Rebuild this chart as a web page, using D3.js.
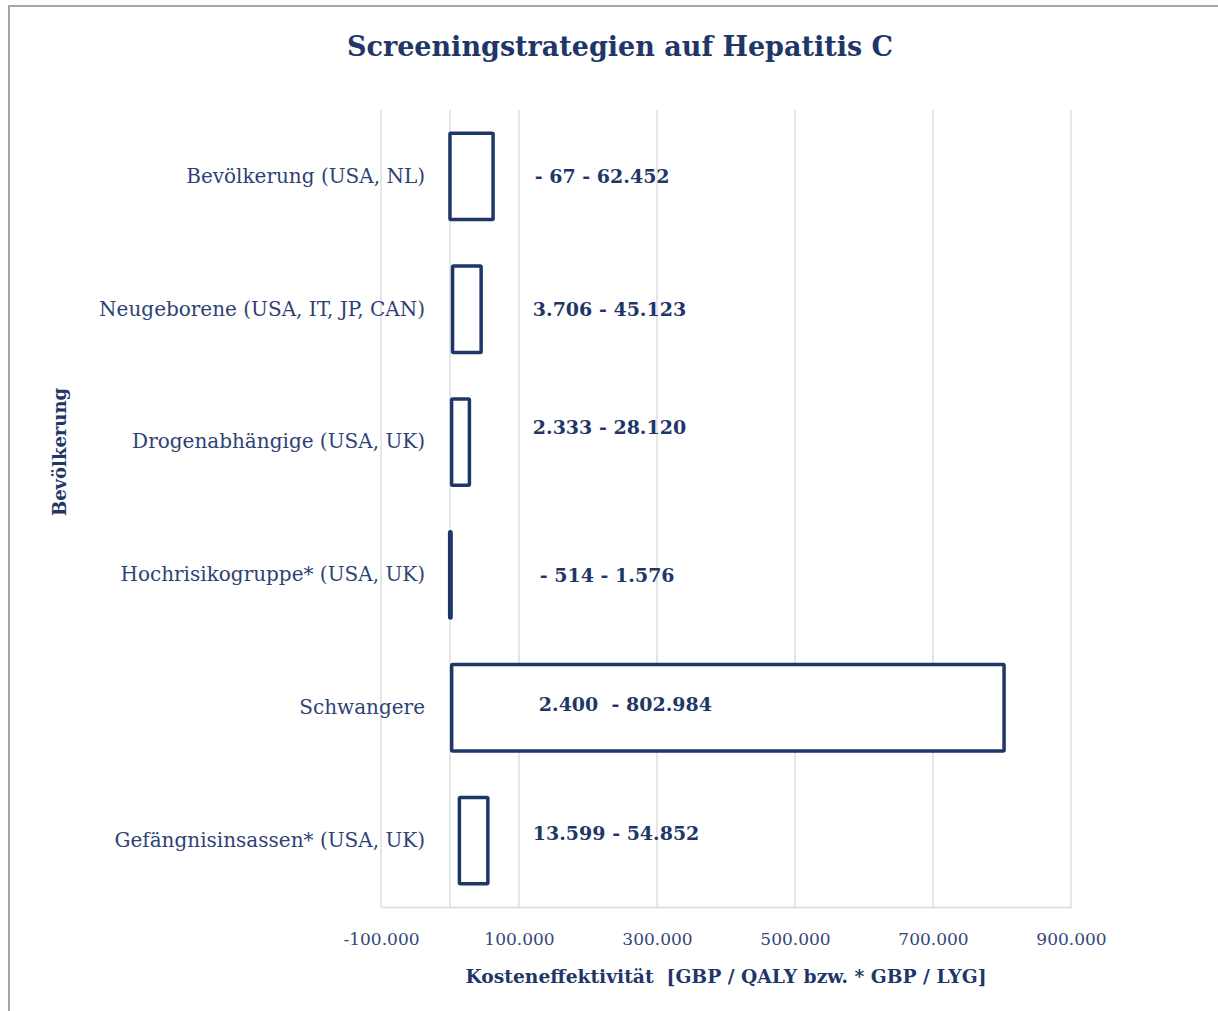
<!DOCTYPE html>
<html>
<head>
<meta charset="utf-8">
<script src="https://cdn.jsdelivr.net/npm/d3@7"></script>
<style>
  body { margin: 0; background: #fff; }
  text { font-family: "DejaVu Serif", serif; }
</style>
</head>
<body>
<div id="chart"></div>
<script>
// categories, top to bottom
var groups = [
    "Bevölkerung (USA, NL)",
    "Neugeborene (USA, IT, JP, CAN)",
    "Drogenabhängige (USA, UK)",
    "Hochrisikogruppe* (USA, UK)",
    "Schwangere",
    "Gefängnisinsassen* (USA, UK)"
];
// range of cost effectiveness per group
var lowValues = [-67, 3706, 2333, -514, 2400, 13599];
var highValues = [62452, 45123, 28120, 1576, 802984, 54852];
var rangeLabels = ["- 67 - 62.452", "3.706 - 45.123", "2.333 - 28.120", "- 514 - 1.576", "2.400  - 802.984", "13.599 - 54.852"];
var tickValues = [-100000, 100000, 300000, 500000, 700000, 900000];

// small manual nudges of the range labels [dx, dy]
var labelNudge = [[2, 0], [0, 0], [0, -15], [7, 0], [6, -3], [0, -7]];

var svgWidth = 1218;
var svgHeight = 1011;
var margin = {top: 110, right: 147, bottom: 104, left: 381};
var chartWidth = svgWidth - margin.left - margin.right;
var chartHeight = svgHeight - margin.top - margin.bottom;
var navy = "#1f3768";

var data = groups.map((g, i) => ({group: g, low: lowValues[i], high: highValues[i], label: rangeLabels[i], nudge: labelNudge[i]}));

var svg = d3.select("#chart").append("svg")
    .attr("width", svgWidth)
    .attr("height", svgHeight);

// frame
svg.append("rect")
    .attr("x", 9).attr("y", 6)
    .attr("width", svgWidth + 20).attr("height", svgHeight + 20)
    .attr("fill", "#fff")
    .attr("stroke", "#a6a6a6")
    .attr("stroke-width", 2);

var chartGroup = svg.append("g")
    .attr("transform", `translate(${margin.left},${margin.top})`);

var xScale = d3.scaleLinear()
    .domain([-100000, 900000])
    .range([0, chartWidth]);

var yScale = d3.scaleBand()
    .domain(groups)
    .range([0, chartHeight])
    .paddingInner(0.35)
    .paddingOuter(0.175);

// gridlines
chartGroup.selectAll(".grid")
    .data(tickValues)
    .enter()
    .append("line")
    .attr("x1", d => xScale(d)).attr("x2", d => xScale(d))
    .attr("y1", 0).attr("y2", chartHeight)
    .attr("stroke", "#d9d9d9")
    .attr("stroke-width", 1.3);

// category axis line at zero
chartGroup.append("line")
    .attr("x1", xScale(0)).attr("x2", xScale(0))
    .attr("y1", 0).attr("y2", chartHeight)
    .attr("stroke", "#d9d9d9")
    .attr("stroke-width", 1.3);

// x axis
var bottomAxis = d3.axisBottom(xScale)
    .tickValues(tickValues)
    .tickSize(0)
    .tickPadding(26)
    .tickFormat(d => d3.format(",")(d).replace(/,/g, ".").replace("−", "-"));

var xAxis = chartGroup.append("g")
    .attr("transform", `translate(0,${chartHeight})`)
    .call(bottomAxis);
xAxis.select(".domain").attr("stroke", "#d9d9d9").attr("stroke-width", 1.5);
xAxis.selectAll("text")
    .attr("font-size", "17px")
    .attr("font-family", "DejaVu Serif")
    .attr("fill", "#34467a");

// y axis (labels only)
var leftAxis = d3.axisLeft(yScale).tickSize(0).tickPadding(25);
var yAxis = chartGroup.append("g")
    .attr("transform", `translate(${xScale(0)},0)`)
    .call(leftAxis);
yAxis.select(".domain").remove();
yAxis.selectAll("text")
    .attr("font-size", "20px")
    .attr("font-family", "DejaVu Serif")
    .attr("fill", "#2e4274");

// range bars
chartGroup.selectAll(".bar")
    .data(data)
    .enter()
    .append("rect")
    .attr("class", "bar")
    .attr("x", d => xScale(d.low))
    .attr("y", d => yScale(d.group))
    .attr("width", d => Math.max(1, xScale(d.high) - xScale(d.low)))
    .attr("height", yScale.bandwidth())
    .attr("fill", "#fff")
    .attr("stroke", navy)
    .attr("stroke-width", 3.5)
    .attr("rx", 1);

// range labels
chartGroup.selectAll(".rangeText")
    .data(data)
    .enter()
    .append("text")
    .attr("class", "rangeText")
    .attr("x", d => xScale(120000) + d.nudge[0])
    .attr("y", d => yScale(d.group) + yScale.bandwidth() / 2 + d.nudge[1])
    .attr("dy", "0.35em")
    .attr("font-size", "19px")
    .attr("font-weight", "bold")
    .attr("fill", navy)
    .style("white-space", "pre")
    .text(d => d.label);

// title
svg.append("text")
    .attr("x", 620)
    .attr("y", 56)
    .attr("text-anchor", "middle")
    .attr("font-size", "27px")
    .attr("font-weight", "bold")
    .attr("fill", navy)
    .text("Screeningstrategien auf Hepatitis C");

// x axis title
svg.append("text")
    .attr("x", margin.left + chartWidth / 2)
    .attr("y", 983)
    .attr("text-anchor", "middle")
    .attr("font-size", "18.7px")
    .attr("font-weight", "bold")
    .attr("fill", navy)
    .style("white-space", "pre")
    .text("Kosteneffektivität  [GBP / QALY bzw. * GBP / LYG]");

// y axis title
svg.append("text")
    .attr("text-anchor", "middle")
    .attr("transform", "translate(66,452)rotate(-90)")
    .attr("font-size", "18px")
    .attr("font-weight", "bold")
    .attr("fill", navy)
    .text("Bevölkerung");
</script>
</body>
</html>
